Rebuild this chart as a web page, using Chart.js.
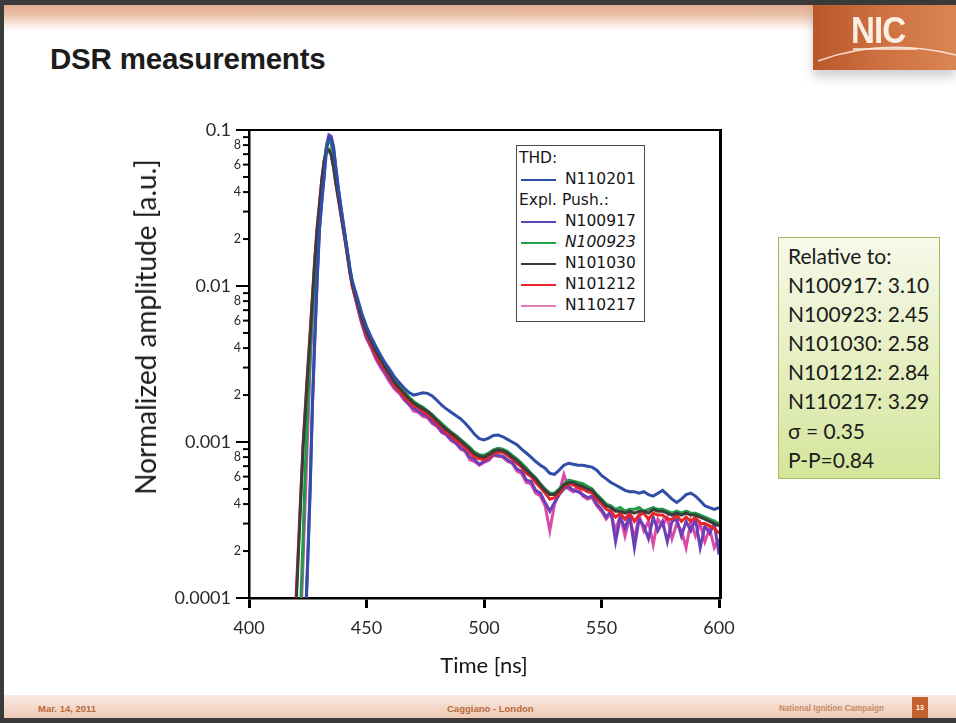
<!DOCTYPE html>
<html><head><meta charset="utf-8">
<script src="https://cdn.jsdelivr.net/npm/chart.js@4/dist/chart.umd.min.js"></script>
<style>
html,body{margin:0;padding:0;background:#fff;}
#slide{position:relative;width:956px;height:723px;overflow:hidden;background:#fff;font-family:"Liberation Sans",Arial,sans-serif;}
#hdr{position:absolute;left:0;top:0;width:956px;height:32px;background:linear-gradient(#dc9f82,#eabfa8 45%,#faede6 80%,#fff);}
#frameL{position:absolute;left:0;top:0;width:4px;height:723px;background:#3a3a3a;z-index:6;}
#frameT{position:absolute;left:0;top:0;width:956px;height:5px;background:#3a3a3a;z-index:6;}
#frameB{position:absolute;left:0;top:718px;width:956px;height:5px;background:#3a3a3a;z-index:6;}
#title{position:absolute;left:50px;top:42px;font-weight:bold;font-size:29.5px;color:#1c1c1c;letter-spacing:-0.2px;}
#logo{position:absolute;left:813px;top:5px;width:143px;height:65px;background:linear-gradient(90deg,#b9582b,#cf7142 50%,#d98552);z-index:7;box-shadow:0 7px 10px rgba(120,120,120,0.35);}
#logo span{position:absolute;left:38px;top:8px;font-size:36px;line-height:36px;font-weight:bold;color:#fbeee2;transform:scaleX(0.92);transform-origin:left top;letter-spacing:-1px;}
#logo svg{position:absolute;left:0;top:0;}
#footer{position:absolute;left:0;top:695px;width:956px;height:23px;background:linear-gradient(#f9e9e1,#efcab6);}
.ft{position:absolute;top:703px;font-size:9.5px;font-weight:bold;color:#b9693a;white-space:nowrap;}
#pg{position:absolute;left:912px;top:697px;width:16px;height:21px;background:#c5602f;color:#fff;font-size:7px;font-weight:bold;text-align:center;line-height:21px;}
#c{position:absolute;left:0;top:0;z-index:2;}
#legend{position:absolute;left:516px;top:145px;width:127px;height:173px;border:1.5px solid #4a4a4a;background:#fff;z-index:4;font-family:"DejaVu Sans",sans-serif;font-size:15.5px;color:#151515;padding-top:2px;box-sizing:content-box;}
#legend .row{height:21px;line-height:21px;white-space:nowrap;position:relative;}
#legend .hd{padding-left:2px;}
#legend .sw{position:absolute;left:4px;top:10px;width:35px;height:1.5px;}
#legend .tx{position:absolute;left:48px;}
#ybox{position:absolute;left:778px;top:237px;width:162px;height:242px;border:1px solid #9fbd5d;background:linear-gradient(#f6f9ea,#e4eebf 55%,#d5e59b);z-index:4;font-family:Lato,"Open Sans",sans-serif;font-size:21px;color:#1b1b1b;line-height:29.1px;padding-top:3px;box-sizing:border-box;padding-left:9px;}
#ytitle{position:absolute;left:145px;top:327px;transform:translate(-50%,-50%) rotate(-90deg);font-family:Lato,"Open Sans",sans-serif;font-size:28px;color:#1a1a1a;white-space:nowrap;z-index:3;}
</style></head>
<body>
<div id="slide">
  <div id="hdr"></div>
  <div id="frameL"></div><div id="frameT"></div><div id="frameB"></div>
  <div id="logo"><svg width="143" height="65"><path d="M5 56 Q 70 32 143 50" stroke="#fbe9dc" stroke-width="1.6" fill="none" opacity="0.9"/><line x1="40" y1="44" x2="104" y2="44" stroke="#fbeee2" stroke-width="1.5"/></svg><span>NIC</span></div>
  <div id="title">DSR measurements</div>
  <canvas id="c" width="956" height="723"></canvas>
  <div id="ytitle">Normalized amplitude [a.u.]</div>
  <div id="legend">
    <div class="row hd">THD:</div>
    <div class="row"><span class="sw" style="background:#2f4ea8"></span><span class="tx">N110201</span></div>
    <div class="row hd">Expl. Push.:</div>
    <div class="row"><span class="sw" style="background:#5a44b5"></span><span class="tx">N100917</span></div>
    <div class="row"><span class="sw" style="background:#22a04c"></span><span class="tx" style="font-style:italic">N100923</span></div>
    <div class="row"><span class="sw" style="background:#3a3a3a"></span><span class="tx">N101030</span></div>
    <div class="row"><span class="sw" style="background:#e8282c"></span><span class="tx">N101212</span></div>
    <div class="row"><span class="sw" style="background:#e07ab8"></span><span class="tx">N110217</span></div>
  </div>
  <div id="ybox">Relative to:<br>N100917: 3.10<br>N100923: 2.45<br>N101030: 2.58<br>N101212: 2.84<br>N110217: 3.29<br>σ = 0.35<br>P-P=0.84</div>
  <div id="footer"></div>
  <div class="ft" style="left:38px">Mar. 14, 2011</div>
  <div class="ft" style="left:447px">Caggiano - London</div>
  <div class="ft" style="left:779px;font-size:9px;transform:scaleX(0.9);transform-origin:left top;color:#c48b68">National Ignition Campaign</div>
  <div id="pg">13</div>
</div>
<script>
// ---- data (time in ns, normalized amplitude) ----
const TIME_NS = [418,419,420,421,422,423,424,425,426,427,428,429,430,431,432,433,434,435,436,437,438,439,440,441,442,443,444,
446,448,450,452,454,456,458,460,462,464,466,468,470,
472,474,476,478,480,482,484,486,488,490,492,494,496,
498,500,502,504,506,508,510,512,514,516,518,520,522,
524,526,528,530,532,534,536,538,540,542,544,546,548,
550,552,554,556,558,560,562,564,566,568,570,572,574,
576,578,580,582,584,586,588,590,592,594,596,598,600];

const N110201 = [1e-5,1e-5,1e-5,1e-5,1.6e-5,3.5e-5,7e-5,1.8e-4,5e-4,1.8e-3,4.7e-3,0.0112,0.0234,0.0355,0.050,0.075,0.089,0.088,0.075,0.056,0.042,0.033,0.026,0.0205,0.0162,0.0128,0.0107,
0.0085,0.0067,0.0055,0.0047,0.0041,0.0036,0.0032,0.0029,0.0026,0.00240,0.00222,0.00208,0.00200,
0.00203,0.00207,0.00205,0.00197,0.00185,0.00172,0.00163,0.00155,0.00148,0.00141,0.00132,0.00122,0.00112,
0.00105,0.00103,0.00106,0.00110,0.00111,0.00108,0.00104,0.00100,0.00096,0.00090,0.00085,0.00080,0.00075,
0.00071,0.00068,0.00063,0.00062,0.00066,0.00071,0.00073,0.00072,0.00071,0.00071,0.00070,0.00069,0.00066,
0.00061,0.00058,0.00055,0.00053,0.00051,0.00049,0.00048,0.00048,0.00047,0.00048,0.00046,0.00045,0.00047,
0.00049,0.00046,0.00043,0.00041,0.00043,0.00046,0.00047,0.00045,0.00042,0.00039,0.00038,0.00037,0.00038];

const N100917 = [1e-5,1e-5,1e-5,1e-5,1.5e-5,3.3e-5,6.5e-5,1.7e-4,4.8e-4,1.7e-3,4.5e-3,0.0108,0.023,0.035,0.052,0.080,0.093,0.091,0.078,0.057,0.043,0.033,0.026,0.0205,0.016,0.0125,0.0102,
0.0076,0.0058,0.0047,0.0041,0.0035,0.0031,0.0028,0.0025,0.00225,0.0021,0.00192,0.00175,0.00165,
0.00158,0.00150,0.00146,0.00134,0.00128,0.00117,0.00112,0.00104,0.00099,0.00092,0.00088,0.00080,0.00077,
0.00072,0.00075,0.00078,0.00083,0.00082,0.00081,0.00077,0.00074,0.00067,0.00065,0.00057,0.00056,0.00049,
0.00047,0.00041,0.00036,0.00041,0.00046,0.00050,0.00052,0.00049,0.00048,0.00046,0.00044,0.00045,0.00040,
0.00037,0.00033,0.00036,0.00023,0.00033,0.00028,0.00034,0.00021,0.00032,0.00029,0.00024,0.00033,0.00027,
0.00031,0.00023,0.00031,0.00032,0.00025,0.00031,0.00027,0.00032,0.00021,0.00029,0.00026,0.00030,0.00019];

const N100923 = [1e-5,1.2e-5,1.5e-5,4e-5,9e-5,2.4e-4,7e-4,1.7e-3,3.6e-3,7e-3,0.0125,0.021,0.031,0.044,0.062,0.080,0.086,0.081,0.065,0.050,0.039,0.031,0.025,0.020,0.016,0.0127,0.0105,
0.0082,0.0063,0.0052,0.0045,0.0039,0.0035,0.0031,0.0028,0.0025,0.00228,0.0021,0.00195,0.00182,
0.00174,0.00167,0.00158,0.00150,0.00140,0.00131,0.00123,0.00116,0.00110,0.00104,0.00098,0.00092,0.00086,
0.00083,0.00082,0.00085,0.00089,0.00091,0.00090,0.00087,0.00082,0.00078,0.00073,0.00068,0.00063,0.00059,
0.00054,0.00050,0.00047,0.00047,0.00050,0.00054,0.00057,0.00056,0.00055,0.00054,0.00052,0.00050,0.00046,
0.00043,0.00040,0.00039,0.00037,0.00038,0.00036,0.00037,0.00037,0.00038,0.00036,0.00037,0.00038,0.00037,
0.00037,0.00036,0.00035,0.00036,0.00035,0.00036,0.00035,0.00035,0.00034,0.00033,0.00032,0.00031,0.00030];

const N101030 = [2e-5,4e-5,8.5e-5,1.9e-4,4.2e-4,9.3e-4,1.6e-3,2.8e-3,4.7e-3,8.3e-3,0.0145,0.023,0.033,0.048,0.063,0.073,0.074,0.069,0.057,0.045,0.037,0.030,0.024,0.0195,0.0155,0.0123,0.0102,
0.0080,0.0062,0.0051,0.0044,0.0038,0.0034,0.0030,0.0027,0.0024,0.00222,0.00205,0.0019,0.00178,
0.00170,0.00163,0.00157,0.00147,0.00137,0.00128,0.00120,0.00114,0.00108,0.00102,0.00096,0.00090,0.00084,
0.00081,0.00080,0.00083,0.00087,0.00089,0.00088,0.00085,0.00080,0.00076,0.00071,0.00066,0.00062,0.00058,
0.00053,0.00049,0.00046,0.00046,0.00049,0.00053,0.00055,0.00055,0.00053,0.00052,0.00050,0.00049,0.00045,
0.00042,0.00039,0.00038,0.00036,0.00036,0.00035,0.00036,0.00035,0.00036,0.00036,0.00035,0.00037,0.00036,
0.00036,0.00035,0.00034,0.00035,0.00034,0.00035,0.00034,0.00034,0.00033,0.00032,0.00031,0.00030,0.00029];

const N101212 = [2.5e-5,5e-5,1e-4,2.1e-4,4.5e-4,9.5e-4,1.7e-3,3e-3,5e-3,8.6e-3,0.015,0.024,0.034,0.049,0.064,0.074,0.075,0.070,0.058,0.045,0.036,0.029,0.0235,0.019,0.015,0.012,0.0099,
0.0077,0.0060,0.0049,0.0042,0.0036,0.0032,0.0029,0.0026,0.0023,0.00212,0.00196,0.00182,0.00170,
0.00166,0.00156,0.00150,0.00141,0.00131,0.00124,0.00115,0.00110,0.00103,0.00098,0.00092,0.00086,0.00080,
0.00078,0.00077,0.00080,0.00085,0.00086,0.00086,0.00082,0.00078,0.00073,0.00069,0.00063,0.00060,0.00055,
0.00051,0.00047,0.00043,0.00044,0.00047,0.00051,0.00054,0.00053,0.00051,0.00050,0.00048,0.00047,0.00043,
0.00040,0.00037,0.00036,0.00033,0.00035,0.00032,0.00035,0.00031,0.00034,0.00035,0.00032,0.00035,0.00034,
0.00034,0.00032,0.00032,0.00034,0.00031,0.00033,0.00031,0.00033,0.00030,0.00030,0.00029,0.00028,0.00026];

const N110217 = [1e-5,1e-5,1.3e-5,3e-5,7e-5,1.7e-4,4.5e-4,1.2e-3,3e-3,6.2e-3,0.0115,0.020,0.030,0.043,0.061,0.078,0.088,0.084,0.068,0.051,0.039,0.031,0.025,0.0195,0.0155,0.0121,0.0099,
0.0075,0.0057,0.0046,0.0040,0.0034,0.0030,0.0027,0.0024,0.00218,0.00205,0.00186,0.00174,0.00158,
0.00155,0.00146,0.00143,0.00131,0.00126,0.00115,0.00111,0.00102,0.00098,0.00090,0.00087,0.00077,0.00075,
0.00071,0.00074,0.00076,0.00082,0.00081,0.00080,0.00075,0.00073,0.00065,0.00063,0.00055,0.00054,0.00047,
0.00045,0.00039,0.00027,0.00040,0.00047,0.00062,0.00050,0.00048,0.00052,0.00045,0.00043,0.00044,0.00039,
0.00036,0.00032,0.00035,0.00027,0.00034,0.00025,0.00033,0.00024,0.00034,0.00027,0.00031,0.00022,0.00032,
0.00029,0.00033,0.00024,0.00030,0.00027,0.00021,0.00031,0.00025,0.00030,0.00023,0.00028,0.00021,0.00024];

const X_TICKS = [400,450,500,550,600];
const Y_DECADES = [0.0001,0.001,0.01,0.1];
const Y_MANTISSAS = [1,2,3,4,5,6,7,8,9];
const Y_LABELLED_MANTISSAS = [2,4,6,8];

// ---- helpers ----
const mant = v => Math.round(v / Math.pow(10, Math.floor(Math.log10(v) + 1e-9)));
const ALL_Y_TICKS = [];
Y_DECADES.slice(0,3).forEach(d => Y_MANTISSAS.forEach(m => ALL_Y_TICKS.push(m*d)));
ALL_Y_TICKS.push(0.1);
const isDecade = v => mant(v) === 1;

const series = [
  {label:'N110201', data:N110201, color:'#2f4ea8', order:1},
  {label:'N100917', data:N100917, color:'#6a3fb8', order:5},
  {label:'N100923', data:N100923, color:'#1f9c48', order:3},
  {label:'N101030', data:N101030, color:'#3c3c3c', order:2},
  {label:'N101212', data:N101212, color:'#e8262a', order:4},
  {label:'N110217', data:N110217, color:'#dc4aa8', order:6}
];

const frameTicks = {
  id:'frameTicks',
  afterDraw(chart){
    const {ctx, chartArea:a, scales} = chart;
    const y = scales.y;
    ctx.save();
    ctx.strokeStyle = '#000';
    ctx.lineWidth = 2;
    ctx.beginPath(); ctx.moveTo(a.left-1, a.top); ctx.lineTo(a.right+2, a.top); ctx.stroke();
    ctx.lineWidth = 3;
    ctx.beginPath(); ctx.moveTo(a.right+1.5, a.top-1); ctx.lineTo(a.right+1.5, a.bottom+1); ctx.stroke();
    ctx.lineWidth = 2;
    ALL_Y_TICKS.forEach(v => {
      const py = y.getPixelForValue(v);
      const len = isDecade(v) ? 13 : 6;
      ctx.beginPath(); ctx.moveTo(a.left-len, py); ctx.lineTo(a.left, py); ctx.stroke();
    });
    ctx.restore();
  }
};

new Chart(document.getElementById('c'), {
  type:'line',
  data:{
    datasets: series.map(s => ({
      label:s.label,
      data: TIME_NS.map((t,i) => ({x:t, y:s.data[i]})),
      borderColor:s.color,
      backgroundColor:s.color,
      borderWidth:3,
      pointRadius:0,
      tension:0,
      order:s.order,
      fill:false
    }))
  },
  options:{
    responsive:false,
    animation:false,
    devicePixelRatio:1,
    layout:{padding:{left:120, top:130, right:237, bottom:44}},
    plugins:{legend:{display:false}, tooltip:{enabled:false}},
    scales:{
      x:{
        type:'linear', min:400, max:600,
        afterBuildTicks: s => { s.ticks = X_TICKS.map(v => ({value:v})); },
        afterFit: s => { s.height = 81; },
        ticks:{font:{family:'Lato', size:18}, color:'#2a2a2a', padding:9, maxRotation:0},
        grid:{drawOnChartArea:false, drawTicks:true, tickLength:10, lineWidth:3, color:'#000'},
        border:{display:true, width:2.5, color:'#000'},
        title:{display:true, text:'Time [ns]', font:{family:'Lato', size:22}, color:'#151515', padding:0}
      },
      yMinor:{
        type:'logarithmic', position:'left', weight:0, min:0.0001, max:0.1,
        afterBuildTicks: s => { s.ticks = ALL_Y_TICKS.filter(v => Y_LABELLED_MANTISSAS.includes(mant(v))).map(v => ({value:v})); },
        afterFit: s => { s.width = 17; },
        ticks:{autoSkip:false, padding:8, font:{family:'Lato', size:12.5}, color:'#2a2a2a', callback: v => String(mant(v))},
        grid:{display:false, drawTicks:false},
        border:{display:true, width:2.5, color:'#000'}
      },
      y:{
        type:'logarithmic', position:'left', weight:1, min:0.0001, max:0.1,
        afterBuildTicks: s => { s.ticks = Y_DECADES.map(v => ({value:v})); },
        afterFit: s => { s.width = 112; },
        ticks:{autoSkip:false, padding:1, font:{family:'Lato', size:18}, color:'#2a2a2a', callback: v => String(v)},
        grid:{display:false, drawTicks:false},
        border:{display:false}
      }
    }
  },
  plugins:[frameTicks]
});
</script>
</body></html>
